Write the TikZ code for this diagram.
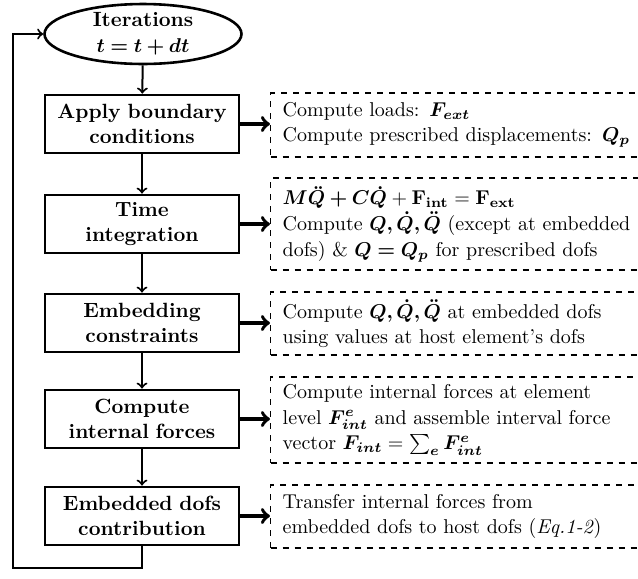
\documentclass[tikz,border=0pt]{standalone}
\usepackage{amsmath}
\usepackage{bm}
\usetikzlibrary{shapes.geometric}

\begin{document}
\begin{tikzpicture}[x=0.5pt, y=-0.5pt,
  stepbox/.style={draw, line width=1.4pt, minimum width=97pt, minimum height=29pt, text width=94pt, align=center, inner sep=0pt, font=\fontsize{10.3}{12.8}\selectfont\bfseries},
  notebox/.style={draw, dashed, line width=0.7pt, anchor=west, text width=186pt, inner xsep=6pt, inner ysep=0pt, align=left, font=\fontsize{10}{12.8}\selectfont},
  flow/.style={->, line width=1pt},
  outarrow/.style={->, line width=1.8pt}]
  \useasboundingbox (0,0) rectangle (638,579);
  \node[draw, ellipse, line width=1.3pt, minimum width=98.5pt, minimum height=29pt, inner sep=0pt, align=center, font=\fontsize{10.3}{12.8}\selectfont\bfseries] (it) at (143,34) {Iterations\\ $\bm{t=t+dt}$};
  \node[stepbox] (b1) at (142,124) {Apply boundary\\ conditions};
  \node[stepbox] (b2) at (142,224) {Time\\ integration};
  \node[stepbox] (b3) at (142,323) {Embedding\\ constraints};
  \node[stepbox] (b4) at (142,419) {Compute\\ internal forces};
  \node[stepbox] (b5) at (142,516) {Embedded dofs\\ contribution};
  \node[notebox, minimum height=32pt] (n1) at (270,125) {Compute loads: $\bm{F_{ext}}$\\ Compute prescribed displacements: $\bm{Q_p}$};
  \node[notebox, minimum height=46pt] (n2) at (270,224) {$\bm{M\ddot{Q}+C\dot{Q}}+\mathbf{F_{int}}=\mathbf{F_{ext}}$\\ Compute $\bm{Q,\dot{Q},\ddot{Q}}$ (except at embedded\\ dofs) \& $\bm{Q=Q_p}$ for prescribed dofs};
  \node[notebox, minimum height=31.5pt] (n3) at (270,323.5) {Compute $\bm{Q,\dot{Q},\ddot{Q}}$ at embedded dofs\\ using values at host element's dofs};
  \node[notebox, minimum height=43pt] (n4) at (270,420) {Compute internal forces at element\\ level $\bm{F^e_{int}}$ and assemble interval force\\ vector $\bm{F_{int}}=\sum_{\bm{e}}\bm{F^e_{int}}$};
  \node[notebox, minimum height=31.5pt] (n5) at (270,516.5) {Transfer internal forces from\\ embedded dofs to host dofs (\textit{Eq.1-2})};
  \coordinate (loop) at (13,568);
  % main flow
  \path[flow] (it) edge (b1) (b1) edge (b2) (b2) edge (b3) (b3) edge (b4) (b4) edge (b5);
  \foreach \i in {1,...,5}
    \draw[outarrow] (b\i.east) -- (b\i.east -| n\i.west);
  % back to the next iteration
  \draw[flow] (b5.south) |- (loop) |- (it.west);
\end{tikzpicture}
\end{document}
